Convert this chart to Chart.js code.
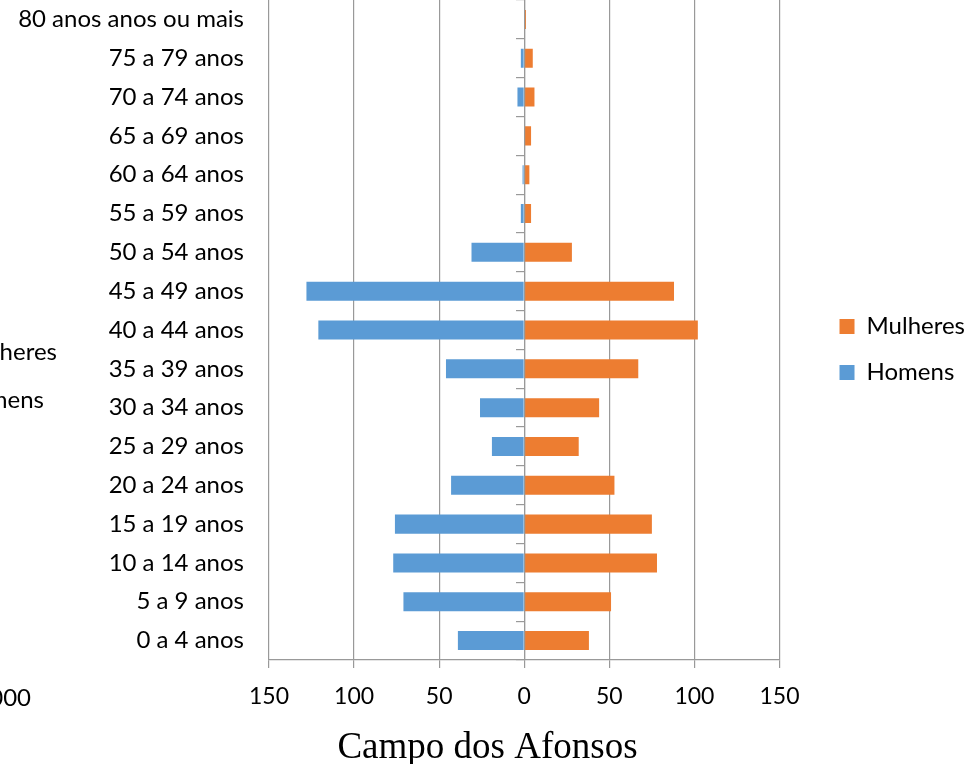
<!DOCTYPE html>
<html>
<head>
<meta charset="utf-8">
<script src="https://cdn.jsdelivr.net/npm/chart.js@4/dist/chart.umd.min.js"></script>
<style>
  html, body { margin: 0; padding: 0; background: #fff; overflow: hidden; }
  #wrap { position: relative; width: 967px; height: 764px; }
  .clip { position: absolute; font-family: Lato, sans-serif; font-size: 24px; color: #000; white-space: nowrap; text-align: right; line-height: 28px; }
</style>
</head>
<body>
<div id="wrap">
  <canvas id="c" width="967" height="764"></canvas>
  <div class="clip" style="right:910px; top:337px;">Mulheres</div>
  <div class="clip" style="right:923px; top:385px;">Homens</div>
  <div class="clip" style="right:936px; top:683px;">1000</div>
</div>
<script>
const categories = ["0 a 4 anos","5 a 9 anos","10 a 14 anos","15 a 19 anos","20 a 24 anos","25 a 29 anos","30 a 34 anos","35 a 39 anos","40 a 44 anos","45 a 49 anos","50 a 54 anos","55 a 59 anos","60 a 64 anos","65 a 69 anos","70 a 74 anos","75 a 79 anos","80 anos anos ou mais"];
const mulheres = [38, 51, 78, 75, 53, 32, 44, 67, 102, 88, 28, 4, 3, 4, 6, 5, 1];
const homens = [39, 71, 77, 76, 43, 19, 26, 46, 121, 128, 31, 2, 1, 0, 4, 2, 0];
const xTicks = [-150, -100, -50, 0, 50, 100, 150];

const font = { family: 'Lato, sans-serif', size: 24 };
const tickFont = { family: 'Lato, sans-serif', size: 23 };
const gridColor = '#999999';

new Chart(document.getElementById('c'), {
  type: 'bar',
  data: {
    labels: categories,
    datasets: [
      { label: 'Mulheres', data: mulheres, backgroundColor: '#ED7D31', borderWidth: 0, categoryPercentage: 1, barPercentage: 0.49 },
      { label: 'Homens', data: homens.map(v => -v), backgroundColor: '#5B9BD5', borderWidth: 0, categoryPercentage: 1, barPercentage: 0.49 }
    ]
  },
  options: {
    indexAxis: 'y',
    responsive: false,
    animation: false,
    layout: { autoPadding: false, padding: { left: 0, right: -8, top: 0, bottom: -6 } },
    scales: {
      x: {
        stacked: true, min: -150, max: 150,
        afterBuildTicks: s => { s.ticks = xTicks.map(v => ({ value: v })); },
        ticks: { callback: v => Math.abs(v), font: tickFont, color: '#000', padding: 15 },
        grid: { color: gridColor, lineWidth: 1.2, tickLength: 8 },
        border: { color: gridColor, width: 1.2 },
        afterFit: s => { s.paddingLeft = 0; s.paddingRight = 0; }
      },
      y: {
        stacked: true, reverse: true, position: 'left',
        ticks: { font: font, color: '#000', padding: 25 },
        grid: { display: false, drawTicks: false },
        border: { display: false },
        afterFit: s => { s.width = 269; s.paddingTop = 0; s.paddingBottom = 0; }
      },
      yc: {
        type: 'category', axis: 'y', reverse: true, offset: true,
        position: { x: 0 },
        ticks: { display: false },
        grid: { offset: true, drawOnChartArea: false, tickLength: 8, color: gridColor, lineWidth: 1.2 },
        border: { color: gridColor, width: 1.2, z: 1 },
        afterFit: s => { s.paddingTop = 0; s.paddingBottom = 0; }
      },
      gap: {
        type: 'category', axis: 'y', position: 'right',
        ticks: { display: false },
        grid: { display: false, drawTicks: false },
        border: { display: false },
        afterFit: s => { s.width = 38; s.paddingTop = 0; s.paddingBottom = 0; }
      }
    },
    plugins: {
      legend: {
        position: 'right',
        align: 'start',
        maxWidth: 220,
        title: { display: true, text: ' ', font: { size: 12 }, padding: { top: 278, bottom: 0 } },
        labels: { font: font, color: '#000', boxWidth: 15, boxHeight: 15, padding: 22 }
      },
      title: {
        display: true, position: 'bottom', text: 'Campo dos Afonsos',
        font: { family: 'Liberation Serif', size: 37, weight: 'normal' }, color: '#000',
        padding: { top: 0, bottom: 0 }
      },
      tooltip: { enabled: false }
    }
  }
});
</script>
</body>
</html>
